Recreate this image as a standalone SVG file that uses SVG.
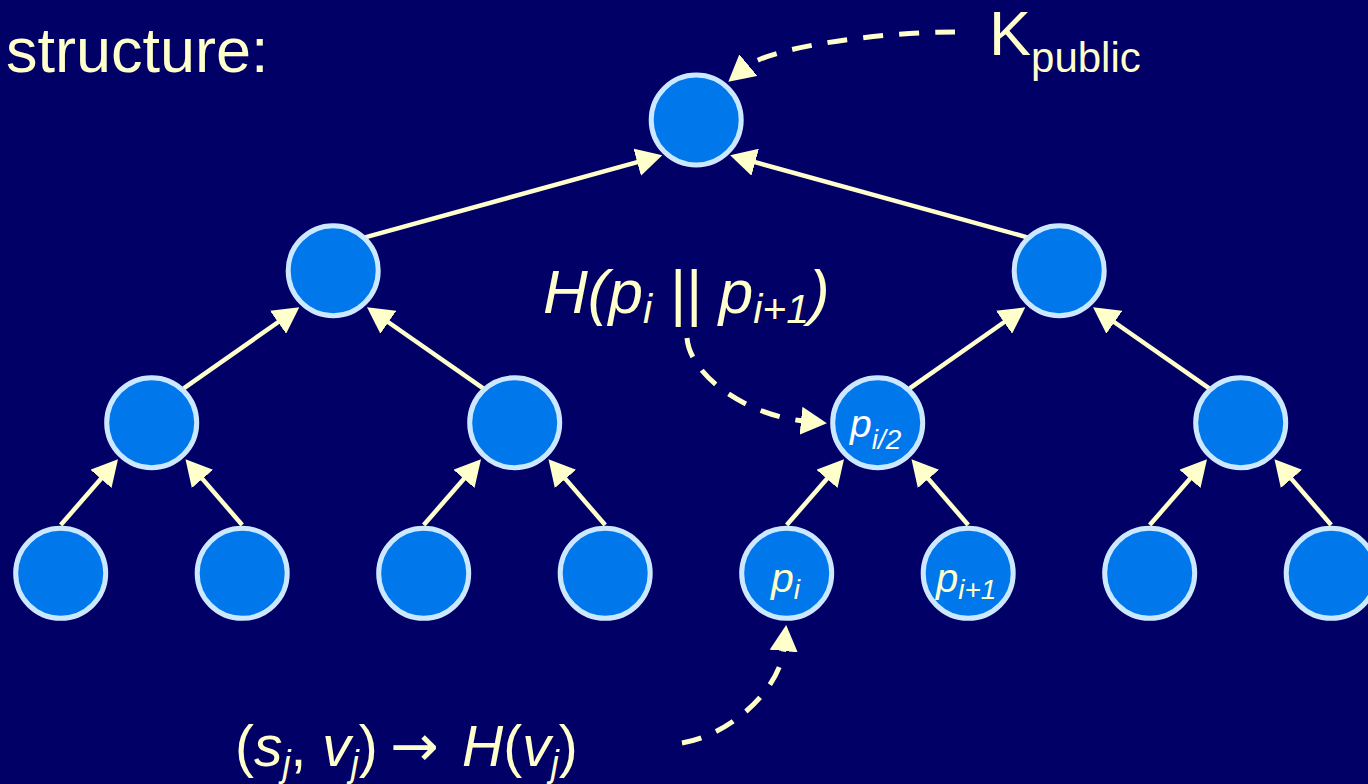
<svg xmlns="http://www.w3.org/2000/svg" width="1368" height="784" viewBox="0 0 1368 784">
  <style>
    .node { fill: #0078ec; stroke: #cce8ff; stroke-width: 5; }
    .edge { stroke: #ffffcc; stroke-width: 4.5; fill: none; marker-end: url(#arrow); }
    .dash { stroke: #ffffcc; stroke-width: 5; fill: none; stroke-dasharray: 20 16; marker-end: url(#arrow); }
    .txt { fill: #ffffcc; font-family: "Liberation Sans", Arial, sans-serif; }
    .it { font-style: italic; }
  </style>
  <defs>
    <marker id="arrow" markerUnits="userSpaceOnUse" viewBox="0 0 26 28" markerWidth="26" markerHeight="28" refX="3" refY="14" orient="auto">
      <path d="M0,0 L26,14 L0,28 z" fill="#ffffcc"/>
    </marker>
  </defs>
  <rect x="0" y="0" width="1368" height="784" fill="#000066"/>

  <g id="connectors">
    <line class="edge" x1="60.7" y1="525" x2="102.9" y2="476.6"/>
    <line class="edge" x1="242.2" y1="525" x2="200.5" y2="476.6"/>
    <line class="edge" x1="423.7" y1="525" x2="465.9" y2="476.6"/>
    <line class="edge" x1="605.2" y1="525" x2="563.5" y2="476.6"/>
    <line class="edge" x1="786.7" y1="525" x2="828.9" y2="476.6"/>
    <line class="edge" x1="968.2" y1="525" x2="926.5" y2="476.6"/>
    <line class="edge" x1="1149.7" y1="525" x2="1191.9" y2="476.6"/>
    <line class="edge" x1="1331.2" y1="525" x2="1289.5" y2="476.6"/>
    <line class="edge" x1="183.7" y1="388.3" x2="280.5" y2="320.5"/>
    <line class="edge" x1="483.2" y1="388.3" x2="385.9" y2="320.5"/>
    <line class="edge" x1="909.7" y1="388.3" x2="1006.5" y2="320.5"/>
    <line class="edge" x1="1209.2" y1="388.3" x2="1111.9" y2="320.5"/>
    <line class="edge" x1="365" y1="237.3" x2="640.1" y2="161.4"/>
    <line class="edge" x1="1027.2" y1="237.3" x2="752.3" y2="161.4"/>
    <path class="dash" d="M955,32 C880,32 770,47 746,67"/>
    <path class="dash" d="M687,338 C690,375 745,415 804,421"/>
    <path class="dash" d="M682,743 C730,735 780,690 784,648"/>
  </g>

  <g id="n-root"><circle class="node" cx="696.2" cy="120" r="45"/></g>
  <g id="n-l"><circle class="node" cx="333.2" cy="270.7" r="45"/></g>
  <g id="n-r"><circle class="node" cx="1059.2" cy="270.7" r="45"/></g>
  <g id="n-ll"><circle class="node" cx="151.7" cy="422.7" r="45"/></g>
  <g id="n-lr"><circle class="node" cx="514.7" cy="422.7" r="45"/></g>
  <g id="n-rl">
    <circle class="node" cx="877.7" cy="422.7" r="45"/>
    <text class="it" x="850" y="437" font-family="Liberation Sans, Arial, sans-serif" font-size="39" fill="#ffffff">p<tspan font-size="28" dy="12">i/2</tspan></text>
  </g>
  <g id="n-rr"><circle class="node" cx="1240.7" cy="422.7" r="45"/></g>
  <g id="leaf1"><circle class="node" cx="60.7" cy="573.3" r="45"/></g>
  <g id="leaf2"><circle class="node" cx="242.2" cy="573.3" r="45"/></g>
  <g id="leaf3"><circle class="node" cx="423.7" cy="573.3" r="45"/></g>
  <g id="leaf4"><circle class="node" cx="605.2" cy="573.3" r="45"/></g>
  <g id="leaf5">
    <circle class="node" cx="786.7" cy="573.3" r="45"/>
    <text class="txt it" x="771" y="592" font-size="41">p<tspan font-size="28" dy="7">i</tspan></text>
  </g>
  <g id="leaf6">
    <circle class="node" cx="968.2" cy="573.3" r="45"/>
    <text class="txt it" x="936" y="592" font-size="40">p<tspan font-size="28" dy="7">i+1</tspan></text>
  </g>
  <g id="leaf7"><circle class="node" cx="1149.7" cy="573.3" r="45"/></g>
  <g id="leaf8"><circle class="node" cx="1331.2" cy="573.3" r="45"/></g>

  <g id="labels">
    <text class="txt" x="6" y="72" font-size="63">structure:</text>
    <text class="txt" x="989" y="55" font-size="63">K<tspan font-size="42" dy="17">public</tspan></text>
    <text class="txt it" x="543" y="313" font-size="62">H(p<tspan font-size="41" dy="10">i</tspan><tspan dy="-10"> || p</tspan><tspan font-size="41" dy="10">i+1</tspan><tspan dy="-10">)</tspan></text>
    <text class="txt" x="235" y="766" font-size="57">(<tspan class="it">s</tspan><tspan class="it" font-size="36" dy="10">j</tspan><tspan dy="-10">, </tspan><tspan class="it">v</tspan><tspan class="it" font-size="36" dy="10">j</tspan><tspan dy="-10">)</tspan><tspan x="390" font-family="DejaVu Sans, sans-serif" font-size="58">→</tspan><tspan class="it" x="462">H</tspan>(<tspan class="it">v</tspan><tspan class="it" font-size="36" dy="10">j</tspan><tspan dy="-10">)</tspan></text>
  </g>
</svg>
